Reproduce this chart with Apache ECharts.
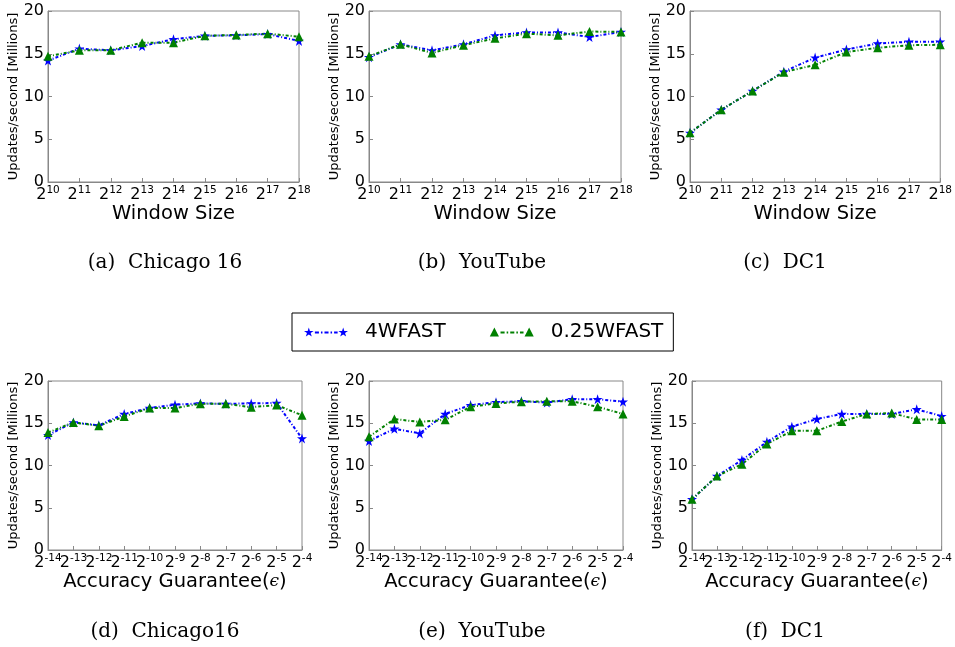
<!DOCTYPE html>
<html>
<head>
<meta charset="utf-8">
<script src="https://cdn.jsdelivr.net/npm/echarts@6/dist/echarts.min.js"></script>
<style>
  html, body { margin: 0; padding: 0; background: #fff; }
  #chart { width: 955px; height: 647px; }
</style>
</head>
<body>
<div id="chart"></div>
<script>
// tick labels (exponent of 2)
const windowExp = ['10', '11', '12', '13', '14', '15', '16', '17', '18'];
const epsExp = ['-14', '-13', '-12', '-11', '-10', '-9', '-8', '-7', '-6', '-5', '-4'];

// top row: window size
const chicagoWin4 = [14.2, 15.6, 15.4, 15.9, 16.7, 17.1, 17.15, 17.3, 16.5];
const chicagoWin025 = [14.7, 15.4, 15.4, 16.3, 16.3, 17.1, 17.2, 17.35, 17.0];
const youtubeWin4 = [14.6, 16.1, 15.4, 16.1, 17.15, 17.5, 17.5, 16.95, 17.55];
const youtubeWin025 = [14.7, 16.1, 15.1, 16.0, 16.8, 17.35, 17.15, 17.6, 17.55];
const dc1Win4 = [5.75, 8.45, 10.65, 12.9, 14.55, 15.5, 16.2, 16.4, 16.4];
const dc1Win025 = [5.75, 8.45, 10.65, 12.85, 13.7, 15.2, 15.7, 16.0, 16.05];

// bottom row: accuracy guarantee
const chicagoEps4 = [13.6, 15.1, 14.75, 16.1, 16.8, 17.2, 17.35, 17.3, 17.35, 17.4, 13.2];
const chicagoEps025 = [13.9, 15.1, 14.7, 15.8, 16.8, 16.8, 17.3, 17.3, 16.9, 17.15, 15.95];
const youtubeEps4 = [12.9, 14.35, 13.8, 16.1, 17.15, 17.5, 17.6, 17.45, 17.85, 17.85, 17.55];
const youtubeEps025 = [13.4, 15.5, 15.15, 15.4, 16.95, 17.35, 17.55, 17.6, 17.6, 16.95, 16.1];
const dc1Eps4 = [6.0, 8.75, 10.65, 12.8, 14.6, 15.5, 16.1, 16.1, 16.1, 16.65, 15.85];
const dc1Eps025 = [6.0, 8.75, 10.15, 12.55, 14.1, 14.1, 15.2, 16.1, 16.2, 15.45, 15.45];

const captions = ['(a)  Chicago 16', '(b)  YouTube', '(c)  DC1', '(d)  Chicago16', '(e)  YouTube', '(f)  DC1'];

const STAR = 'path://M50,0 L61.2,34.5 L97.6,34.5 L68.2,55.9 L79.4,90.5 L50,69.1 L20.6,90.5 L31.8,55.9 L2.4,34.5 L38.8,34.5 Z';
// legend icons: marker at each end, dotted line in between (like matplotlib)
const STAR_ICON = 'path://M50,5 L61.2,39.5 L97.6,39.5 L68.2,60.9 L79.4,95.5 L50,74.1 L20.6,95.5 L31.8,60.9 L2.4,39.5 L38.8,39.5 Z ' +
    'M390,5 L401.2,39.5 L437.6,39.5 L408.2,60.9 L419.4,95.5 L390,74.1 L360.6,95.5 L371.8,60.9 L342.4,39.5 L378.8,39.5 Z ' +
    'M110,45 L150,45 L150,65 L110,65 Z M170,45 L185,45 L185,65 L170,65 Z M205,45 L245,45 L245,65 L205,65 Z ' +
    'M265,45 L280,45 L280,65 L265,65 Z M300,45 L335,45 L335,65 L300,65 Z';
const TRI_ICON = 'path://M50,5 L95,95 L5,95 Z M390,5 L435,95 L345,95 Z ' +
    'M110,45 L150,45 L150,65 L110,65 Z M170,45 L185,45 L185,65 L170,65 Z M205,45 L245,45 L245,65 L205,65 Z ' +
    'M265,45 L280,45 L280,65 L265,65 Z M300,45 L335,45 L335,65 L300,65 Z';
const BLUE = '#0000ff';
const GREEN = '#008000';
const FONT = 'DejaVu Sans';

var grids = [
    { left: 48, top: 11, width: 251, height: 171 },
    { left: 369, top: 11, width: 252, height: 171 },
    { left: 690, top: 11, width: 252, height: 171 },
    { left: 48, top: 381, width: 254, height: 169 },
    { left: 369, top: 381, width: 254, height: 169 },
    { left: 692, top: 381, width: 253, height: 169 }
];
grids.forEach(g => { g.show = true; g.borderColor = '#888'; g.borderWidth = 1; });

var panels = [
    [windowExp, chicagoWin4, chicagoWin025],
    [windowExp, youtubeWin4, youtubeWin025],
    [windowExp, dc1Win4, dc1Win025],
    [epsExp, chicagoEps4, chicagoEps025],
    [epsExp, youtubeEps4, youtubeEps025],
    [epsExp, dc1Eps4, dc1Eps025]
];

var xAxes = [], yAxes = [], series = [], titles = [];
panels.forEach(function (p, i) {
    let top = i < 3;
    xAxes.push({
        type: 'category',
        gridIndex: i,
        data: p[0],
        boundaryGap: false,
        name: top ? 'Window Size' : 'Accuracy Guarantee({e|ϵ})',
        nameLocation: 'middle',
        nameGap: top ? 20 : 21,
        nameTextStyle: {
            fontFamily: FONT, fontSize: 19.5, color: '#000',
            rich: { e: { fontFamily: 'DejaVu Serif', fontStyle: 'italic', fontSize: 17, color: '#000' } }
        },
        axisLine: { lineStyle: { color: '#888' } },
        axisTick: { show: true, inside: true, length: 4, lineStyle: { color: '#888' } },
        axisLabel: {
            interval: 0,
            margin: 3,
            color: '#000',
            formatter: v => '{b|2}{s|' + v + '}',
            rich: {
                b: { fontFamily: FONT, fontSize: 16, color: '#000' },
                s: { fontFamily: FONT, fontSize: 10.5, color: '#000', padding: [0, 0, 9, 0] }
            }
        },
        splitLine: { show: false }
    });
    yAxes.push({
        type: 'value',
        gridIndex: i,
        min: 0, max: 20, interval: 5,
        name: 'Updates/second [Millions]',
        nameLocation: 'middle',
        nameGap: 21,
        nameTextStyle: { fontFamily: FONT, fontSize: 13, color: '#000' },
        axisLine: { show: true, lineStyle: { color: '#888' } },
        axisTick: { show: true, inside: true, length: 4, lineStyle: { color: '#888' } },
        axisLabel: { fontFamily: FONT, fontSize: 16, color: '#000', margin: 4 },
        splitLine: { show: false }
    });
    series.push({
        name: '4WFAST', type: 'line', xAxisIndex: i, yAxisIndex: i,
        data: p[1], symbol: STAR, symbolSize: 10,
        itemStyle: { color: BLUE },
        lineStyle: { color: BLUE, width: 2, type: [3, 2, 1, 2] },
        animation: false
    });
    series.push({
        name: '0.25WFAST', type: 'line', xAxisIndex: i, yAxisIndex: i,
        data: p[2], symbol: 'triangle', symbolSize: 9,
        itemStyle: { color: GREEN },
        lineStyle: { color: GREEN, width: 2, type: [3, 2, 1, 2] },
        animation: false
    });
    titles.push({
        text: captions[i],
        left: [160, 477, 780][i % 3],
        top: top ? 248 : 617,
        textAlign: 'center',
        textStyle: { fontFamily: 'DejaVu Serif', fontWeight: 'normal', fontSize: 20, color: '#000' }
    });
});

var myChart = echarts.init(document.getElementById('chart'));
myChart.setOption({
    backgroundColor: '#fff',
    title: titles,
    legend: {
        data: [
            { name: '4WFAST', icon: STAR_ICON },
            { name: '0.25WFAST', icon: TRI_ICON }
        ],
        left: 292, top: 313,
        padding: [9, 10, 9, 12],
        borderColor: '#000', borderWidth: 1,
        itemWidth: 44, itemHeight: 10, itemGap: 44,
        textStyle: { fontFamily: FONT, fontSize: 20, color: '#000', padding: [0, 0, 0, 12] }
    },
    grid: grids,
    xAxis: xAxes,
    yAxis: yAxes,
    series: series
});
</script>
</body>
</html>
